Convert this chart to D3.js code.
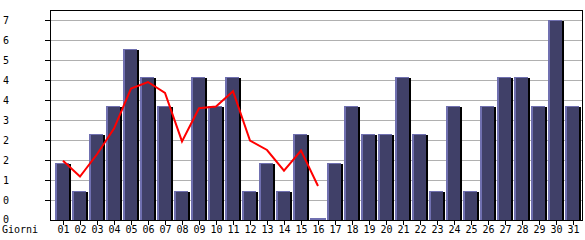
<!DOCTYPE html>
<html><head><meta charset="utf-8">
<script src="https://cdn.jsdelivr.net/npm/d3@7"></script>
<style>
html,body{margin:0;padding:0;background:#fff;}
svg{display:block;}
text{font-family:"DejaVu Sans Mono",monospace;font-size:10px;fill:#000;}
</style></head>
<body>
<svg id="c" width="585" height="240"></svg>
<script>
const days = ["01","02","03","04","05","06","07","08","09","10","11","12","13","14","15","16","17","18","19","20","21","22","23","24","25","26","27","28","29","30","31"];
const barValues = [2,1,3,4,6,5,4,1,5,4,5,1,2,1,3,0,2,4,3,3,5,3,1,4,1,4,5,5,4,7,4];
const lineDays = ["01","02","03","04","05","06","07","08","09","10","11","12","13","14","15","16"];
const lineValues = [2.07,1.52,2.3,3.2,4.6,4.83,4.45,2.75,3.91,3.97,4.51,2.78,2.45,1.73,2.43,1.19];
const yTicks = [0,0.7,1.4,2.1,2.8,3.5,4.2,4.9,5.6,6.3,7.0];
const yTickLabels = ["0","0","1","2","2","3","4","4","5","6","7"];
const xAxisTitle = "Giorni";

(function(){
const svg = d3.select("#c");
const pl = 50, pr = 582, pt = 10, pb = 220;
const x = d3.scaleBand().domain(days).range([55, 55 + 17*days.length]).padding(0);
const y = d3.scaleLinear().domain([0,7]).range([pb, 20]);

// grid
svg.append("g").selectAll("line").data(yTicks.slice(1)).join("line")
  .attr("x1", pl).attr("x2", pr)
  .attr("y1", d => Math.round(y(d)) + 0.5).attr("y2", d => Math.round(y(d)) + 0.5)
  .attr("stroke", "#b0b0b0").attr("stroke-width", 1);

// left ticks
svg.append("g").selectAll("line").data(yTicks.slice(1)).join("line")
  .attr("x1", pl - 5).attr("x2", pl)
  .attr("y1", d => Math.round(y(d)) + 0.5).attr("y2", d => Math.round(y(d)) + 0.5)
  .attr("stroke", "#000");

// y labels
svg.append("g").selectAll("text").data(yTicks).join("text")
  .attr("x", 3).attr("y", (d,i) => Math.round(y(d)) + 3.5 - (i===0 ? 1 : 0))
  .text((d,i) => yTickLabels[i]);

// bars
const bw = x.bandwidth() - 1;
const g = svg.append("g").attr("shape-rendering","crispEdges");
days.forEach((d,i) => {
  const x0 = x(d), yt = Math.round(y(barValues[i])), h = pb - yt;
  if (h < 2) {
    g.append("rect").attr("x", x0).attr("y", pb - 2).attr("width", bw).attr("height", 2).attr("fill", "#7070b0");
    return;
  }
  g.append("rect").attr("x", x0).attr("y", yt).attr("width", bw - 2).attr("height", h).attr("fill", "#7070b0");
  g.append("rect").attr("x", x0 + 2).attr("y", yt + 1).attr("width", bw - 4).attr("height", h - 1).attr("fill", "#404068");
  g.append("rect").attr("x", x0 + bw - 2).attr("y", yt + 1).attr("width", 2).attr("height", h - 1).attr("fill", "#000");
});

// frame
const f = svg.append("g").attr("stroke","#000").attr("stroke-width",1);
f.append("line").attr("x1", pl).attr("x2", pr + 1).attr("y1", pt + 0.5).attr("y2", pt + 0.5);
f.append("line").attr("x1", pr + 0.5).attr("x2", pr + 0.5).attr("y1", pt).attr("y2", pb + 1);
f.append("line").attr("x1", pl).attr("x2", pr + 1).attr("y1", pb + 0.5).attr("y2", pb + 0.5);
f.append("line").attr("x1", pl + 0.5).attr("x2", pl + 0.5).attr("y1", pt).attr("y2", pb + 1);

// x ticks and labels
svg.append("g").selectAll("line").data(days).join("line")
  .attr("x1", d => x(d) + 8.5).attr("x2", d => x(d) + 8.5)
  .attr("y1", pb).attr("y2", pb + 5).attr("stroke", "#000");
svg.append("g").selectAll("text").data(days).join("text")
  .attr("x", d => x(d) + 8.5).attr("y", 233).attr("text-anchor","middle").text(d => d);
svg.append("text").attr("x", 2).attr("y", 233).text(xAxisTitle);

// red line
const line = d3.line().x(d => x(d[0]) + 8).y(d => y(d[1]));
svg.append("path").datum(lineDays.map((d,i) => [d, lineValues[i]]))
  .attr("d", line).attr("fill","none").attr("stroke","#ff0000").attr("stroke-width",2);
})();
</script>
</body></html>
